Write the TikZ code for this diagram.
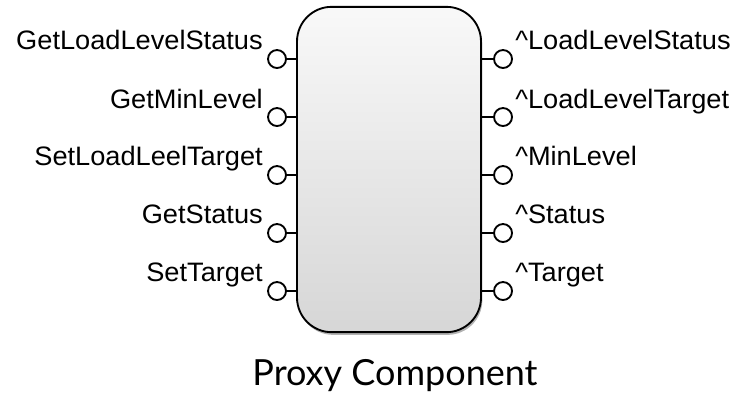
\documentclass[tikz,border=0pt]{standalone}
\usepackage{fontspec}
\setmainfont{Liberation Sans}
\newfontfamily\portfont[FakeStretch=1.02]{Liberation Sans}
\newfontfamily\titlefont{Lato}
\usetikzlibrary{calc,shadows}

\begin{document}
\begin{tikzpicture}[line cap=round,line join=round,x=0.75pt,y=-0.75pt,
        proxybox/.style={draw,line width=1.4pt,rounded corners=26pt,minimum width=138pt,minimum height=244pt,
            top color=gray!5,bottom color=gray!32,
            drop shadow={shadow xshift=1pt,shadow yshift=-2pt,opacity=0.3,fill=black}},
        port/.style={draw,circle,line width=1.4pt,fill=white,minimum size=13.5pt,inner sep=0pt},
        stub/.style={line width=1.6pt},
        lbl/.style={font=\portfont\fontsize{20}{24}\selectfont,inner sep=0pt}]
        \useasboundingbox (0,0) rectangle (737,394);
        % component body
        \node [proxybox] (proxy) at (389,169.5) {};
        % inputs
        \node [port] (in1) at (277,59) {};
        \node [port] (in2) at (277,117) {};
        \node [port] (in3) at (277,175) {};
        \node [port] (in4) at (277,233) {};
        \node [port] (in5) at (277,291) {};
        \draw [stub] (in1.east) -- (in1.east -| proxy.west);
        \draw [stub] (in2.east) -- (in2.east -| proxy.west);
        \draw [stub] (in3.east) -- (in3.east -| proxy.west);
        \draw [stub] (in4.east) -- (in4.east -| proxy.west);
        \draw [stub] (in5.east) -- (in5.east -| proxy.west);
        \node [lbl,anchor=base east] (inlbl1) at (263,49) {GetLoadLevelStatus};
        \node [lbl,anchor=base east] (inlbl2) at (263,108) {GetMinLevel};
        \node [lbl,anchor=base east] (inlbl3) at (263,165) {SetLoadLeelTarget};
        \node [lbl,anchor=base east] (inlbl4) at (263,223) {GetStatus};
        \node [lbl,anchor=base east] (inlbl5) at (263,281) {SetTarget};
        % outputs
        \node [port] (out1) at (503,59) {};
        \node [port] (out2) at (503,117) {};
        \node [port] (out3) at (503,175) {};
        \node [port] (out4) at (503,233) {};
        \node [port] (out5) at (503,291) {};
        \draw [stub] (out1.west) -- (out1.west -| proxy.east);
        \draw [stub] (out2.west) -- (out2.west -| proxy.east);
        \draw [stub] (out3.west) -- (out3.west -| proxy.east);
        \draw [stub] (out4.west) -- (out4.west -| proxy.east);
        \draw [stub] (out5.west) -- (out5.west -| proxy.east);
        \node [lbl,anchor=base west] (outlbl1) at (515,49) {\textasciicircum LoadLevelStatus};
        \node [lbl,anchor=base west] (outlbl2) at (515,108) {\textasciicircum LoadLevelTarget};
        \node [lbl,anchor=base west] (outlbl3) at (515,165) {\textasciicircum MinLevel};
        \node [lbl,anchor=base west] (outlbl4) at (515,223) {\textasciicircum Status};
        \node [lbl,anchor=base west] (outlbl5) at (515,281) {\textasciicircum Target};
        % caption
        \node [font=\titlefont\fontsize{27}{31}\selectfont,anchor=base,inner sep=0pt] (title) at (395,385) {Proxy Component};
    \end{tikzpicture}
\end{document}
